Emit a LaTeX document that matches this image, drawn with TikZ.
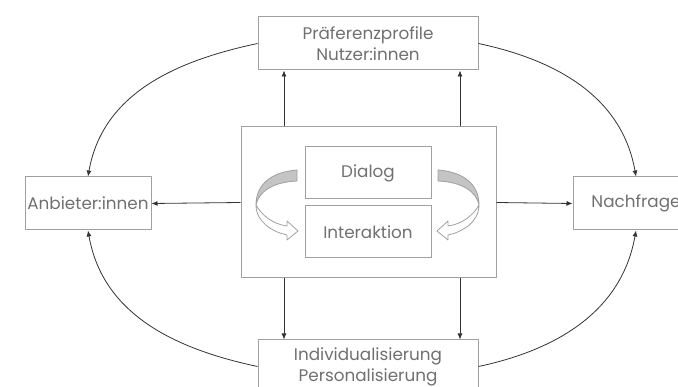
\documentclass[tikz,border=0pt]{standalone}
\usepackage{fontspec}
\setmainfont{Poppins}
\usepackage{tikz}
\usetikzlibrary{arrows.meta}
\definecolor{rahmen}{HTML}{A0A0A0}
\definecolor{schrift}{HTML}{707070}
\definecolor{band}{HTML}{C4C4C4}
\tikzset{
	kasten/.style={
		shape = rectangle,
		draw = rahmen,
		line width = 1pt,
		text = schrift,
		align = center,
		inner sep = 0pt,
		font = \fontsize{16.8}{21}\selectfont
	},
	pfeil/.style={
		draw = black!80,
		line width = 0.8pt,
		-{Latex[length=6pt,width=5pt]}
	},
	ribbon/.style={
		draw = rahmen,
		line width = 0.8pt,
		line join = round
	},
}

\begin{document}
\begin{tikzpicture}[x=1pt, y=-1pt]
	\clip (0,0) rectangle (678,387);
	\node[kasten, minimum width=255pt, minimum height=151pt] (mitte) at (368.5,202.5) {};
	\node[kasten, minimum width=220pt, minimum height=53pt] (pref) at (368,43.5) {Präferenzprofile\\Nutzer:innen};
	\node[kasten, minimum width=220pt, minimum height=53pt] (indiv) at (368,366.5) {Individualisierung\\Personalisierung};
	\node[kasten, minimum width=126pt, minimum height=53pt] (anbieter) at (88,203.5) {Anbieter:innen};
	\node[kasten, minimum width=126pt, minimum height=53pt] (nachfrage) at (636,203.5) {Nachfrage};
	\node[kasten, minimum width=126pt, minimum height=52pt] (dialog) at (368,173) {Dialog};
	\node[kasten, minimum width=126pt, minimum height=52pt] (interaktion) at (368,232) {Interaktion};
	% gerade Pfeile
	\draw[pfeil] (mitte.west) -- (anbieter.east);
	\draw[pfeil] (mitte.east) -- (nachfrage.west);
	\foreach \x in {284, 460}{
		\draw[pfeil] (mitte.north -| \x,0) -- (pref.south -| \x,0);
		\draw[pfeil] (mitte.south -| \x,0) -- (indiv.north -| \x,0);
	}
	% Bogen
	\draw[pfeil] (pref.west) to[out=192, in=80] (anbieter.north);
	\draw[pfeil] (pref.east) to[out=-12, in=100] (nachfrage.north);
	\draw[pfeil] (indiv.west) to[out=168, in=-80] (anbieter.south);
	\draw[pfeil] (indiv.east) to[out=12, in=-100] (nachfrage.south);
	% gedrehte Pfeile
	\foreach \s in {1, -1}{
		\begin{scope}[shift={(367.5,0)}, xscale=\s]
			\filldraw[ribbon, fill=white] (-111.5,205) .. controls (-111.5,222) and (-95,232) .. (-80.5,235) -- (-80.5,240) -- (-69.5,231) -- (-80.5,221) -- (-80.5,226) .. controls (-95,224) and (-106,215) .. (-111.5,205);
			\filldraw[ribbon, fill=band] (-70.5,170) .. controls (-97,172) and (-111.5,185) .. (-111.5,205) .. controls (-109,192) and (-95,182) .. (-70.5,181) -- cycle;
		\end{scope}
	}
\end{tikzpicture}
\end{document}
